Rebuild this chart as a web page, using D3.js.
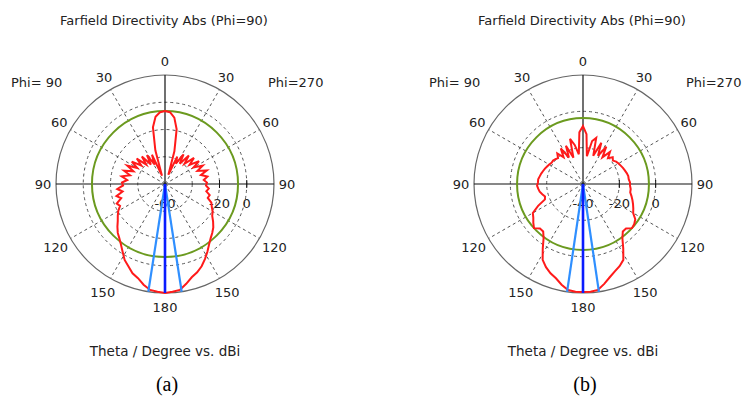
<!DOCTYPE html>
<html lang="en">
<head>
<meta charset="UTF-8">
<title>Farfield Directivity Abs (Phi=90)</title>
<script src="https://d3js.org/d3.v7.min.js"></script>
<style>
  body { margin: 0; background: #fff; }
  text { font-family: "DejaVu Sans", sans-serif; fill: #222; }
</style>
</head>
<body>
<svg width="743" height="398"></svg>
<script>
// theta grid, degrees (same for every series)
const theta = d3.range(0, 181, 4);

// directivity in dBi
const dirA_phi90 = [-6.4, -7.2, -10.1, -17.4, -34.3, -53.5, -36.5, -43.9, -35.0, -42.4, -33.6, -40.2, -32.1, -38.0, -30.6, -36.5,
  -29.2, -35.0, -28.4, -33.6, -27.7, -32.1, -28.4, -29.2, -24.8, -28.4, -23.3, -26.2, -21.8, -23.3, -20.4, -18.2,
  -16.0, -13.0, -10.1, -7.9, -5.0, -1.3, 3.1, 6.1, 9.7, 11.9, 15.6, 18.5, 19.3, 20.0];
const dirA_phi270 = [-6.4, -7.2, -10.8, -18.9, -35.0, -52.8, -38.0, -43.1, -34.3, -41.6, -32.8, -39.4, -31.4, -37.2, -29.9, -35.8,
  -29.2, -34.3, -27.7, -32.8, -28.4, -31.4, -29.2, -29.9, -27.7, -29.2, -26.2, -27.0, -23.3, -21.8, -19.6, -18.2,
  -15.2, -12.3, -10.1, -7.9, -5.0, -1.3, 2.4, 6.1, 9.0, 11.2, 14.9, 18.5, 19.3, 20.0];
const dirB_phi90 = [-8.1, -11.4, -23.5, -18.0, -14.1, -24.6, -16.9, -23.5, -16.9, -21.8, -18.0, -20.2, -19.6, -19.1, -19.1, -18.5,
  -18.0, -17.4, -16.9, -16.3, -15.8, -15.2, -15.2, -14.7, -15.2, -15.8, -16.9, -18.0, -17.4, -12.5, -8.1, -7.0,
  -5.3, -3.7, -5.9, -5.9, -3.1, 1.8, 7.3, 10.1, 12.3, 14.0, 16.7, 18.9, 19.5, 19.5];
const dirB_phi270 = [-8.1, -12.5, -24.6, -15.8, -13.6, -23.5, -15.2, -22.4, -15.8, -21.8, -16.9, -20.2, -18.0, -19.1, -18.0, -17.4,
  -16.9, -16.3, -15.8, -15.2, -14.7, -14.7, -14.1, -14.1, -13.6, -13.6, -12.5, -11.4, -10.3, -9.2, -8.1, -5.3,
  -4.2, -3.7, -5.9, -5.9, -3.1, 1.8, 7.3, 9.5, 11.2, 13.4, 16.2, 18.9, 19.5, 19.5];

// radial axes (dBi)
const rangeA = [-60, 20], gridA = [-40, -20, 0], labelsA = [-60, -20, 0];
const rangeB = [-40, 20], gridB = [-20, 0], labelsB = [-40, -20, 0];

// side lobe level circle, main lobe direction and 3 dB width (deg)
const sllA = -6.4, mainA = 180, widthA = 17.6;
const sllB = -3.7, mainB = 180, widthB = 16.8;

const angleLabels = ['0', '30', '60', '90', '120', '150', '180', '150', '120', '90', '60', '30'];
const captions = ['(a)', '(b)'];

const svg = d3.select('svg');
const R = 109;
const rad = d => d * Math.PI / 180;

function polarPlot(cx, cy, range, grid, labels, left, right, sll, mainDir, width, caption) {
    const g = svg.append('g').attr('transform', `translate(${cx},${cy})`);
    const r = d3.scaleLinear().domain(range).range([0, R]);

    g.append('text').attr('x', -1).attr('y', 20 - cy).attr('text-anchor', 'middle')
        .attr('dominant-baseline', 'central').style('font-size', '13px')
        .text('Farfield Directivity Abs (Phi=90)');
    g.append('text').attr('x', -154).attr('y', 82 - cy).attr('dominant-baseline', 'central')
        .style('font-size', '13px').text('Phi= 90');
    g.append('text').attr('x', 103).attr('y', 82 - cy).attr('dominant-baseline', 'central')
        .style('font-size', '13px').text('Phi=270');
    g.append('text').attr('x', 0).attr('y', 351 - cy).attr('text-anchor', 'middle')
        .attr('dominant-baseline', 'central').style('font-size', '13.5px')
        .text('Theta / Degree vs. dBi');
    g.append('text').attr('x', 2).attr('y', 384 - cy).attr('text-anchor', 'middle')
        .attr('dominant-baseline', 'central')
        .style('font-family', '"Liberation Serif", serif').style('font-size', '20px').style('fill', '#000')
        .text(caption);

    // spokes every 30 deg
    g.selectAll('.spoke').data(d3.range(30, 360, 30).filter(a => a % 90 !== 0))
        .enter().append('line')
        .attr('x1', 0).attr('y1', 0)
        .attr('x2', a => R * Math.sin(rad(a))).attr('y2', a => -R * Math.cos(rad(a)))
        .attr('stroke', '#555').attr('stroke-dasharray', '3,3').attr('stroke-width', 1);

    // dashed grid circles
    g.selectAll('.grid').data(grid).enter().append('circle')
        .attr('r', d => r(d)).attr('fill', 'none')
        .attr('stroke', '#555').attr('stroke-dasharray', '3,3').attr('stroke-width', 1);

    // outer circle
    g.append('circle').attr('r', r(range[1])).attr('fill', 'none')
        .attr('stroke', '#666').attr('stroke-width', 1.2);

    // cross axes
    g.append('line').attr('x1', -R).attr('x2', R).attr('y1', 0).attr('y2', 0)
        .attr('stroke', '#111').attr('stroke-width', 1.2);
    g.append('line').attr('x1', 0).attr('x2', 0).attr('y1', -R).attr('y2', R)
        .attr('stroke', '#111').attr('stroke-width', 1.2);

    // ticks on axis
    g.selectAll('.tick').data(labels.filter(v => v > range[0])).enter().append('line')
        .attr('x1', d => r(d)).attr('x2', d => r(d)).attr('y1', -4).attr('y2', 4)
        .attr('stroke', '#111');

    // angle labels
    g.selectAll('.alab').data(angleLabels).enter().append('text')
        .attr('x', (d, i) => (122 + (d.length > 2 ? 5 : 0) * Math.abs(Math.sin(rad(i * 30)))) * Math.sin(rad(i * 30)))
        .attr('y', (d, i) => -(123 + (d.length > 2 ? 5 : 0) * Math.abs(Math.sin(rad(i * 30)))) * Math.cos(rad(i * 30)))
        .attr('text-anchor', 'middle').attr('dominant-baseline', 'central')
        .style('font-size', '13px').text(d => d);

    // radial labels
    g.selectAll('.rlab').data(labels).enter().append('text')
        .attr('x', d => r(d)).attr('y', 19)
        .attr('text-anchor', 'middle').attr('dominant-baseline', 'central')
        .style('font-size', '13px').text(d => d);

    // side lobe level
    g.append('circle').attr('r', r(sll)).attr('fill', 'none')
        .attr('stroke', '#6b9a1f').attr('stroke-width', 2);

    // farfield curve: Phi=270 on the right (clockwise), Phi=90 on the left
    const pts = theta.map((t, i) => ({ a: rad(t), v: right[i] }))
        .concat(theta.slice().reverse().map((t, i) => ({ a: rad(360 - t), v: left[theta.length - 1 - i] })));
    const line = d3.lineRadial().angle(d => d.a).radius(d => r(d.v)).curve(d3.curveLinearClosed);
    g.append('path').datum(pts).attr('d', line)
        .attr('fill', 'none').attr('stroke', '#ff1a1a').attr('stroke-width', 2);

    // 3 dB width and main lobe direction
    g.selectAll('.bw').data([mainDir - width / 2, mainDir + width / 2]).enter().append('line')
        .attr('x1', 0).attr('y1', 0)
        .attr('x2', a => R * Math.sin(rad(a))).attr('y2', a => -R * Math.cos(rad(a)))
        .attr('stroke', '#2f8fff').attr('stroke-width', 2.2);
    g.append('line').attr('x1', 0).attr('y1', 0)
        .attr('x2', R * Math.sin(rad(mainDir))).attr('y2', -R * Math.cos(rad(mainDir)))
        .attr('stroke', '#0a1cff').attr('stroke-width', 2.6);
}

polarPlot(165, 184, rangeA, gridA, labelsA, dirA_phi90, dirA_phi270, sllA, mainA, widthA, captions[0]);
polarPlot(583, 184, rangeB, gridB, labelsB, dirB_phi90, dirB_phi270, sllB, mainB, widthB, captions[1]);
</script>
</body>
</html>
